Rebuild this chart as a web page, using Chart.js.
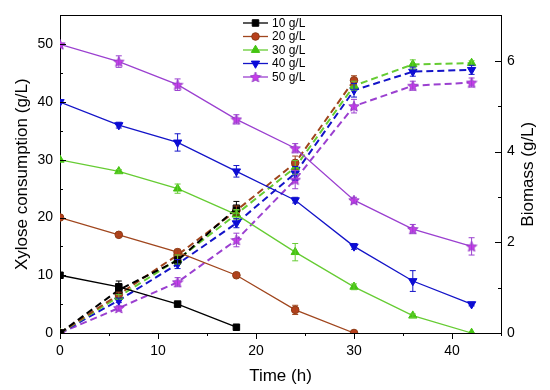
<!DOCTYPE html>
<html>
<head>
<meta charset="utf-8">
<script src="https://cdn.jsdelivr.net/npm/chart.js@4.4.1/dist/chart.umd.min.js"></script>
<style>
  html, body { margin: 0; padding: 0; background: #fff; }
</style>
</head>
<body>
<canvas id="chart" width="550" height="390"></canvas>
<script>
// sampling times (h)
const time = [0, 6, 12, 18, 24, 30, 36, 42];
const labels = ['10 g/L', '20 g/L', '30 g/L', '40 g/L', '50 g/L'];

// xylose consumption (g/L), left axis
const xylose10 = [10, 8, 5, 1];
const xylose20 = [20, 17, 14, 10, 4, 0];
const xylose30 = [30, 28, 25, 20.5, 14, 8, 3, 0];
const xylose40 = [40, 36, 33, 28, 23, 15, 9, 5];
const xylose50 = [50, 47, 43, 37, 32, 23, 18, 15];

// error of xylose
const xyloseErr10 = [0, 1, 0.3, 0.3];
const xyloseErr20 = [0, 0.3, 0.5, 0.4, 0.8, 0];
const xyloseErr30 = [0, 0.3, 0.8, 0.8, 1.5, 0.5, 0.3, 0];
const xyloseErr40 = [0, 0.5, 1.5, 1, 0.5, 0.5, 1.8, 0.3];
const xyloseErr50 = [0, 1, 1, 0.8, 0.8, 0.5, 0.8, 1.5];

// biomass (g/L), right axis
const biomass10 = [0, 0.95, 1.6, 2.75];
const biomass20 = [0, 0.85, 1.72, 2.7, 3.75, 5.57];
const biomass30 = [0, 0.8, 1.62, 2.62, 3.65, 5.45, 5.92, 5.95];
const biomass40 = [0, 0.72, 1.52, 2.42, 3.52, 5.35, 5.76, 5.8];
const biomass50 = [0, 0.55, 1.12, 2.05, 3.38, 5.0, 5.45, 5.52];

// error of biomass
const biomassErr10 = [0, 0.1, 0.08, 0.15];
const biomassErr20 = [0, 0.05, 0.1, 0.1, 0.15, 0.1];
const biomassErr30 = [0, 0.05, 0.1, 0.1, 0.15, 0.1, 0.1, 0.05];
const biomassErr40 = [0, 0.05, 0.1, 0.1, 0.15, 0.15, 0.1, 0.1];
const biomassErr50 = [0, 0.05, 0.1, 0.15, 0.2, 0.15, 0.1, 0.1];

const lineColors = ['#000000', '#A0461E', '#66CC33', '#1414C8', '#9B40D0'];
const markColors = ['#000000', '#B8401C', '#44C411', '#0A0AD8', '#C83CEA'];

const FONT = "'Liberation Sans', Arial, sans-serif";

// filled 5 point star for the 50 g/L series
function makeStar(size, fill, stroke) {
  let c = document.createElement('canvas');
  c.width = size;
  c.height = size;
  let ctx = c.getContext('2d');
  let cx = size / 2, cy = size / 2 + 0.5;
  let R = size / 2 - 0.5, r = R * 0.45;
  ctx.beginPath();
  for (let i = 0; i < 10; i++) {
    let a = -Math.PI / 2 + i * Math.PI / 5;
    let rad = i % 2 === 0 ? R : r;
    ctx.lineTo(cx + rad * Math.cos(a), cy + rad * Math.sin(a));
  }
  ctx.closePath();
  ctx.fillStyle = fill;
  ctx.fill();
  ctx.strokeStyle = stroke;
  ctx.lineWidth = 0.8;
  ctx.stroke();
  return c;
}

const star = makeStar(12, markColors[4], '#8A30C0');
const styles = [
  { pointStyle: 'rect', radius: 4.6, rotation: 0 },
  { pointStyle: 'circle', radius: 3.8, rotation: 0 },
  { pointStyle: 'triangle', radius: 4.8, rotation: 0 },
  { pointStyle: 'triangle', radius: 4.8, rotation: 180 },
  { pointStyle: star, radius: 6, rotation: 0 }
];

function toPoints(values) {
  return values.map((v, i) => ({ x: time[i], y: v }));
}

function makeSet(idx, values, errors, axis, dashed) {
  return {
    label: labels[idx],
    data: toPoints(values),
    errors: errors,
    yAxisID: axis,
    borderColor: lineColors[idx],
    backgroundColor: markColors[idx],
    pointBorderColor: idx === 1 ? '#8B3A14' : markColors[idx],
    pointBorderWidth: 1,
    borderWidth: dashed ? 2 : 1.3,
    borderDash: dashed ? [7, 4] : [],
    pointStyle: styles[idx].pointStyle,
    pointRadius: styles[idx].radius,
    pointRotation: styles[idx].rotation,
    tension: 0,
    fill: false
  };
}

const datasets = [
  makeSet(0, xylose10, xyloseErr10, 'y', false),
  makeSet(1, xylose20, xyloseErr20, 'y', false),
  makeSet(2, xylose30, xyloseErr30, 'y', false),
  makeSet(3, xylose40, xyloseErr40, 'y', false),
  makeSet(4, xylose50, xyloseErr50, 'y', false),
  makeSet(0, biomass10, biomassErr10, 'y2', true),
  makeSet(1, biomass20, biomassErr20, 'y2', true),
  makeSet(2, biomass30, biomassErr30, 'y2', true),
  makeSet(3, biomass40, biomassErr40, 'y2', true),
  makeSet(4, biomass50, biomassErr50, 'y2', true)
];

// error bars, tick marks, top frame, right title and legend
const extras = {
  id: 'extras',
  afterDatasetsDraw(chart) {
    let ctx = chart.ctx;
    ctx.save();
    chart.data.datasets.forEach((ds, d) => {
      let meta = chart.getDatasetMeta(d);
      let scale = chart.scales[ds.yAxisID];
      ctx.strokeStyle = ds.borderColor;
      ctx.lineWidth = 1;
      ds.data.forEach((p, i) => {
        let e = ds.errors[i];
        if (!e) return;
        let x = meta.data[i].x;
        let y1 = scale.getPixelForValue(p.y - e);
        let y2 = scale.getPixelForValue(p.y + e);
        ctx.beginPath();
        ctx.moveTo(x, y1); ctx.lineTo(x, y2);
        ctx.moveTo(x - 3, y1); ctx.lineTo(x + 3, y1);
        ctx.moveTo(x - 3, y2); ctx.lineTo(x + 3, y2);
        ctx.stroke();
      });
    });
    ctx.restore();
  },
  afterDraw(chart) {
    let ctx = chart.ctx;
    let area = chart.chartArea;
    ctx.save();
    ctx.strokeStyle = '#000';
    ctx.lineWidth = 1;
    ctx.beginPath();
    // top frame
    ctx.moveTo(area.left, Math.round(area.top) + 0.5);
    ctx.lineTo(area.right, Math.round(area.top) + 0.5);
    // bottom ticks, outward
    chart.scales.x.ticks.forEach(t => {
      let px = Math.round(chart.scales.x.getPixelForValue(t.value)) + 0.5;
      let len = t.value % 10 === 0 ? 6 : 3;
      ctx.moveTo(px, area.bottom);
      ctx.lineTo(px, area.bottom + len);
    });
    // left ticks, inward
    chart.scales.y.ticks.forEach(t => {
      let py = Math.round(chart.scales.y.getPixelForValue(t.value)) + 0.5;
      let len = t.value % 10 === 0 ? 6 : 3;
      ctx.moveTo(area.left, py);
      ctx.lineTo(area.left + len, py);
    });
    // right ticks, inward
    chart.scales.y2.ticks.forEach(t => {
      let py = Math.round(chart.scales.y2.getPixelForValue(t.value)) + 0.5;
      let len = t.value % 2 === 0 ? 6 : 3;
      ctx.moveTo(area.right, py);
      ctx.lineTo(area.right - len, py);
    });
    ctx.stroke();

    // right axis title, reads bottom to top like the left one
    ctx.save();
    ctx.translate(528, (area.top + area.bottom) / 2);
    ctx.rotate(-Math.PI / 2);
    ctx.font = '17px ' + FONT;
    ctx.fillStyle = '#000';
    ctx.textAlign = 'center';
    ctx.textBaseline = 'middle';
    ctx.fillText('Biomass (g/L)', 0, 0);
    ctx.restore();

    // legend
    ctx.font = '12px ' + FONT;
    ctx.textBaseline = 'middle';
    ctx.textAlign = 'left';
    for (let i = 0; i < labels.length; i++) {
      let y = 23 + i * 13.5;
      ctx.strokeStyle = lineColors[i];
      ctx.lineWidth = 1.3;
      ctx.beginPath();
      ctx.moveTo(243, y);
      ctx.lineTo(268, y);
      ctx.stroke();
      ctx.fillStyle = markColors[i];
      ctx.strokeStyle = i === 1 ? '#8B3A14' : markColors[i];
      ctx.lineWidth = 1;
      Chart.helpers.drawPoint(ctx, {
        pointStyle: styles[i].pointStyle,
        radius: styles[i].radius,
        rotation: styles[i].rotation,
        borderWidth: 1
      }, 255.5, y);
      ctx.fillStyle = '#000';
      ctx.fillText(labels[i], 272, y + 0.5);
    }
    ctx.restore();
  }
};

new Chart(document.getElementById('chart'), {
  type: 'line',
  data: { datasets: datasets },
  plugins: [extras],
  options: {
    responsive: false,
    animation: false,
    layout: { padding: { top: 8 } },
    plugins: {
      legend: { display: false },
      tooltip: { enabled: false }
    },
    scales: {
      x: {
        type: 'linear',
        min: 0,
        max: 45,
        afterFit: s => { s.height = 57; },
        grid: { display: false, drawTicks: false },
        border: { display: true, color: '#000', width: 1 },
        ticks: {
          stepSize: 5,
          autoSkip: false,
          maxRotation: 0,
          padding: 10,
          color: '#000',
          font: { family: FONT, size: 14 },
          callback: v => v % 10 === 0 ? v : ''
        },
        title: {
          display: true,
          text: 'Time (h)',
          color: '#000',
          font: { family: FONT, size: 17 },
          padding: { top: 0, bottom: 3 }
        }
      },
      y: {
        position: 'left',
        min: 0,
        max: 55,
        afterFit: s => { s.width = 60; },
        grid: { display: false, drawTicks: false },
        border: { display: true, color: '#000', width: 1 },
        ticks: {
          stepSize: 5,
          autoSkip: false,
          includeBounds: false,
          padding: 7,
          color: '#000',
          font: { family: FONT, size: 14 },
          callback: v => v % 10 === 0 ? v : ''
        },
        title: {
          display: true,
          text: 'Xylose consumption (g/L)',
          color: '#000',
          font: { family: FONT, size: 17 },
          padding: { top: 12, bottom: 0 }
        }
      },
      y2: {
        position: 'right',
        min: 0,
        max: 7,
        afterFit: s => { s.width = 49; },
        grid: { display: false, drawTicks: false },
        border: { display: true, color: '#000', width: 1 },
        ticks: {
          stepSize: 1,
          autoSkip: false,
          includeBounds: false,
          padding: 6,
          color: '#000',
          font: { family: FONT, size: 14 },
          callback: v => v % 2 === 0 ? v : ''
        },
        title: { display: false }
      }
    }
  }
});
</script>
</body>
</html>
